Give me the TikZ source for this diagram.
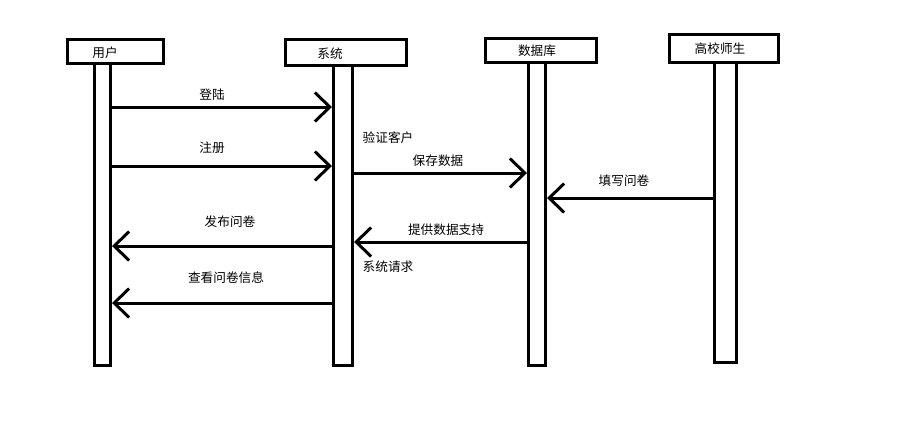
\documentclass[tikz,border=0pt]{standalone}
\usepackage{fontspec}
\newfontfamily\cjk{Noto Sans CJK SC}
\usetikzlibrary{arrows.meta}
\tikzset{
  head/.style={draw,line width=1.7pt,inner sep=0pt},
  lifebar/.style={draw,line width=1.7pt,inner sep=0pt,minimum height=6.04cm},
  msg/.style={line width=1.7pt,-{Straight Barb[length=0.3cm,width=0.58cm,line width=1.7pt]}},
  txt/.style={font=\cjk\fontsize{7.2}{8}\selectfont,inner sep=0pt}
}
\begin{document}
\begin{tikzpicture}[x=0.02cm,y=-0.02cm]
\useasboundingbox (0,0) rectangle (902,441);
%heads
\node[head,minimum width=1.92cm,minimum height=0.48cm,label={[txt,shift={(-10.5,1.5)}]center:用户}] (uhead) at (115.5,51.5) {};
\node[head,minimum width=2.42cm,minimum height=0.52cm,label={[txt,shift={(-16,1.5)}]center:系统}] (shead) at (346,52.5) {};
\node[head,minimum width=2.22cm,minimum height=0.48cm,label={[txt,shift={(-4,0)}]center:数据库}] (dhead) at (541,50.5) {};
\node[head,minimum width=2.18cm,minimum height=0.56cm,label={[txt,shift={(-4,0)}]center:高校师生}] (hhead) at (724,48.5) {};
%life lines
\node[lifebar,minimum width=0.32cm] (ubar) at (102.5,214.5) {};
\node[lifebar,minimum width=0.38cm,minimum height=6.0cm] (sbar) at (343,215.5) {};
\node[lifebar,minimum width=0.34cm,minimum height=6.06cm] (dbar) at (537,214) {};
\node[lifebar,minimum width=0.44cm,minimum height=6.0cm] (hbar) at (725.5,212.5) {};
%messages
\draw[msg] (ubar.east |- 0,107) -- (sbar.west |- 0,107);
\draw[msg] (ubar.east |- 0,166) -- (sbar.west |- 0,166);
\draw[msg] (sbar.east |- 0,173) -- (dbar.west |- 0,173);
\draw[msg] (hbar.west |- 0,198) -- (dbar.east |- 0,198);
\draw[msg] (dbar.west |- 0,242) -- (sbar.east |- 0,242);
\draw[msg] (sbar.west |- 0,246) -- (ubar.east |- 0,246);
\draw[msg] (sbar.west |- 0,303) -- (ubar.east |- 0,303);
%labels
\node[txt] (login) at (212,95) {登陆};
\node[txt] (register) at (212,148) {注册};
\node[txt] (verify) at (388,138) {验证客户};
\node[txt] (save) at (438,161) {保存数据};
\node[txt] (fill) at (624,181) {填写问卷};
\node[txt] (publish) at (230,222) {发布问卷};
\node[txt] (support) at (446,230) {提供数据支持};
\node[txt] (request) at (388,267) {系统请求};
\node[txt] (view) at (226,278) {查看问卷信息};
\end{tikzpicture}
\end{document}
